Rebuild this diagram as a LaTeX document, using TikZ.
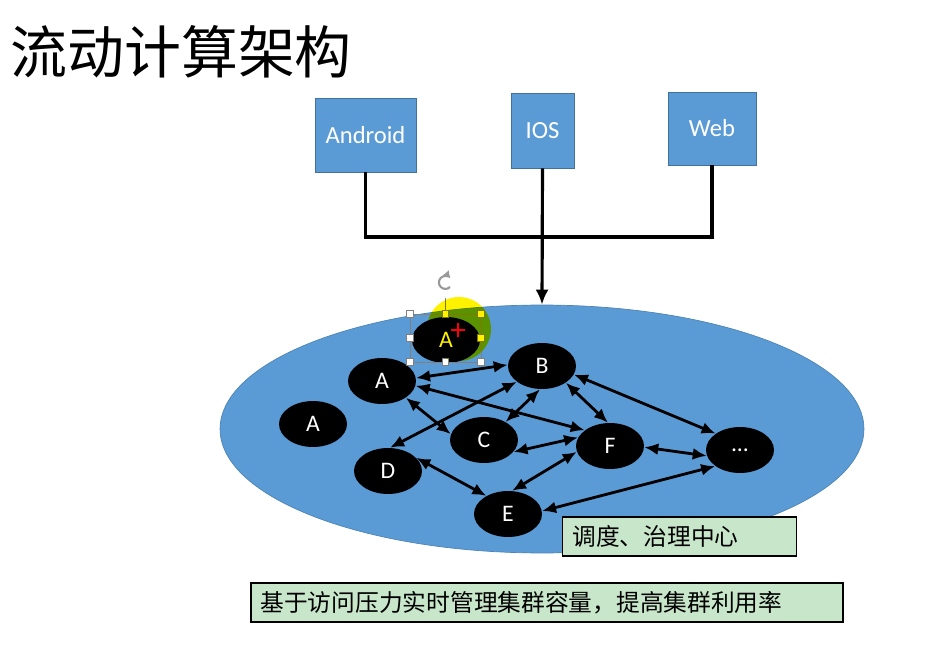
\documentclass[tikz,border=0pt]{standalone}
\usepackage{fontspec}
\setmainfont{Carlito}
\newfontfamily\cjk{Noto Sans CJK SC}
\usetikzlibrary{arrows.meta,shapes.geometric}

\definecolor{appblue}{HTML}{5B9BD5}
\definecolor{appedge}{HTML}{41719C}
\definecolor{notegreen}{HTML}{C8E6C9}

\tikzset{
  client/.style={draw=appedge, fill=appblue, text=white, inner sep=0pt,
    font=\fontsize{14}{16}\selectfont},
  service/.style={ellipse, fill=black, text=white, inner sep=0pt,
    minimum width=1.36cm, minimum height=0.92cm, font=\fontsize{13.5}{15}\selectfont},
  link/.style={line width=1.6pt, {Latex[length=2.8mm,width=2.4mm]}-{Latex[length=2.8mm,width=2.4mm]}},
  feed/.style={line width=1.8pt},
  note/.style={draw=black, line width=1.1pt, fill=notegreen, inner ysep=0pt,
    inner xsep=0.2cm, minimum height=0.78cm, align=left,
    font=\cjk\fontsize{13.5}{16}\selectfont},
  handle/.style={draw=gray, fill=white, line width=0.4pt, minimum size=0.13cm, inner sep=0pt},
}

\begin{document}
\begin{tikzpicture}[x=0.02cm, y=-0.02cm]
    \useasboundingbox (0,0) rectangle (938,646);

    % Title
    \node[anchor=west, inner sep=0pt, font=\cjk\fontsize{32.4}{36}\selectfont] (title) at (10,52) {流动计算架构};

    % Clients
    \node[client, minimum width=2.02cm, minimum height=1.48cm] (android) at (365.5,135) {Android};
    \node[client, minimum width=1.26cm, minimum height=1.50cm] (ios) at (542.5,130.5) {IOS};
    \node[client, minimum width=1.76cm, minimum height=1.46cm] (web) at (712,128.5) {Web};

    % Scheduling / governance centre
    \node[ellipse, fill=appblue, draw=appblue!85!black, line width=0.4pt,
          minimum width=12.88cm, minimum height=4.96cm] (hub) at (542,429) {};

    % Client lines into the centre
    \coordinate (join) at (542,237);
    \draw[feed] (android.south) -- (android.south |- join) -- (web.south |- join) -- (web.south);
    \draw[feed, -{Latex[length=3mm,width=2.6mm]}] (ios.south) -- (hub.north);

    % Services
    \node[service] (Atop) at (446,340) {A};
    \node[service] (A1) at (382,381) {A};
    \node[service] (A2) at (313,424) {A};
    \node[service] (B) at (542,366) {B};
    \node[service] (C) at (484,440) {C};
    \node[service] (D) at (388,471) {D};
    \node[service] (E) at (508,514) {E};
    \node[service] (F) at (610,446) {F};
    \node[service] (dots) at (740,450) {...};

    % Links between services
    \draw[link] (A1.5) -- (B.178);
    \draw[link] (A1.-8) -- (F.148);
    \draw[link] (A1.-35) -- (C.170);
    \draw[link] (B.212) -- (D.85);
    \draw[link] (B.265) -- (C.40);
    \draw[link] (B.-35) -- (F.95);
    \draw[link] (C.-22) -- (F.165);
    \draw[link] (D.25) -- (E.140);
    \draw[link] (E.80) -- (F.190);
    \draw[link] (B.-15) -- (dots.146);
    \draw[link] (F.-2) -- (dots.190);
    \draw[link] (E.5) -- (dots.213);

    % Selection frame on the top A
    \draw[gray, line width=0.4pt] (410,314) rectangle (481,362);
    \draw[gray, line width=0.5pt] (445.5,298) -- (445.5,314);
    \draw[gray!80, line width=1.2pt, -{Latex[length=1.4mm,width=1.6mm]}] (450,287) arc (45:320:6.5);
    \foreach \hx/\hy in {410/314, 445.5/314, 481/314, 410/338, 481/338, 410/362, 445.5/362, 481/362}
        \node[handle] at (\hx,\hy) {};

    % Pointer highlight
    \begin{scope}[blend mode=multiply]
        \fill[yellow] (459,329) circle (32);
    \end{scope}
    \draw[red, line width=1.4pt] (451,330) -- (465,330) (458,323) -- (458,337);

    % Notes
    \node[note, text width=4.28cm] (centre) at (679.5,536.5) {调度、治理中心};
    \node[note, text width=11.46cm] (summary) at (547,602.5) {基于访问压力实时管理集群容量，提高集群利用率};
\end{tikzpicture}
\end{document}
